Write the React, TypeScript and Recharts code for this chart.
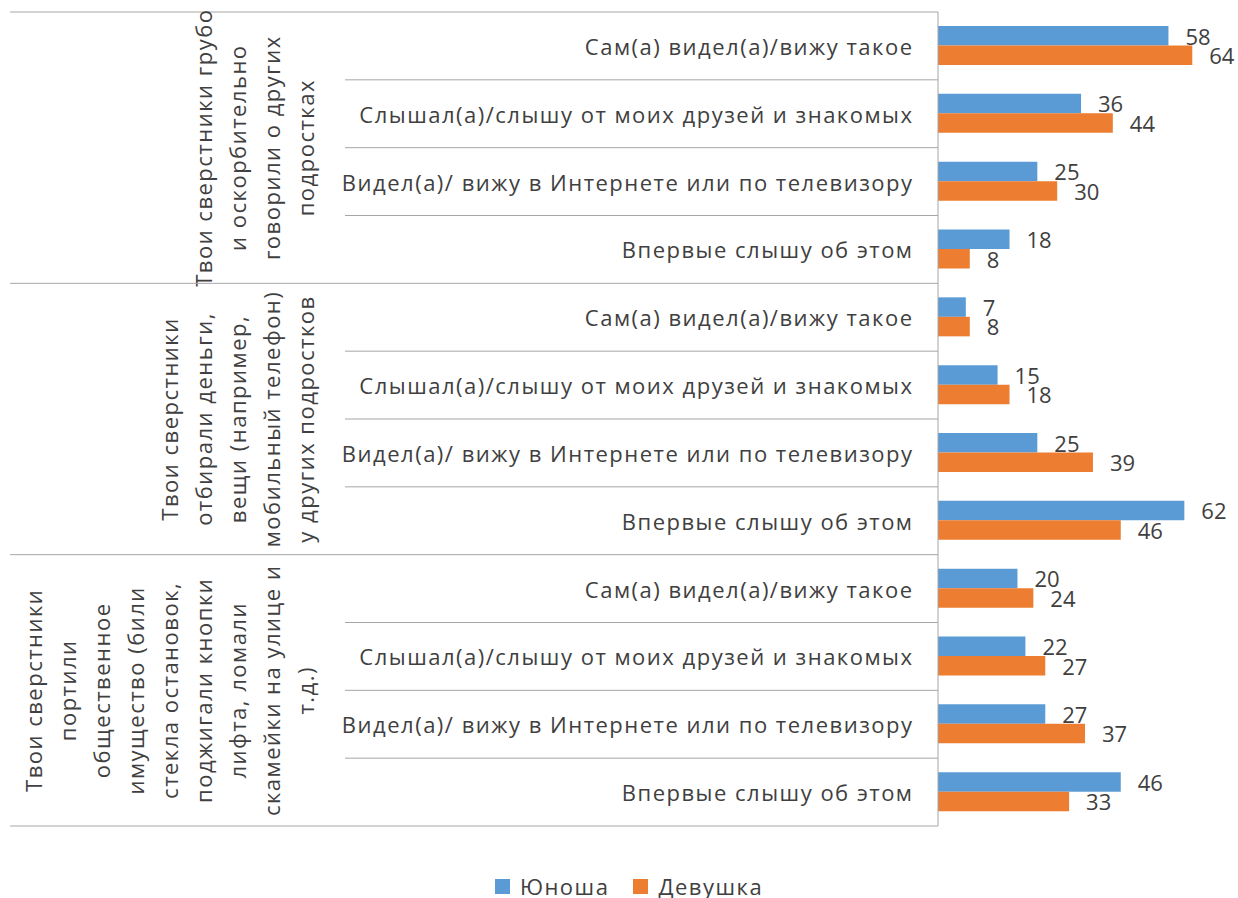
import React from 'react';
import { BarChart, Bar, XAxis, YAxis, Legend, LabelList } from 'recharts';

// Survey questions (wrapped as they are shown on the rotated outer axis)
const groupLabels: string[][] = [
  ['Твои сверстники грубо', 'и оскорбительно', 'говорили о других', 'подростках'],
  ['Твои сверстники', 'отбирали деньги,', 'вещи (например,', 'мобильный телефон)', 'у других подростков'],
  [
    'Твои сверстники',
    'портили',
    'общественное',
    'имущество (били',
    'стекла остановок,',
    'поджигали кнопки',
    'лифта, ломали',
    'скамейки на улице и',
    'т.д.)',
  ],
];

// Answer options, repeated inside every question
const answerLabels: string[] = [
  'Сам(а) видел(а)/вижу такое',
  'Слышал(а)/слышу от моих друзей и знакомых',
  'Видел(а)/ вижу в Интернете или по телевизору',
  'Впервые слышу об этом',
];

const seriesNames = ['Юноша', 'Девушка'];
const boysValues = [58, 36, 25, 18, 7, 15, 25, 62, 20, 22, 27, 46];
const girlsValues = [64, 44, 30, 8, 8, 18, 39, 46, 24, 27, 37, 33];

const BLUE = '#5B9BD5';
const ORANGE = '#ED7D31';
const TEXT = '#404040';
const GRID = '#A6A6A6';
const FONT = '"Open Sans", "DejaVu Sans", sans-serif';
const FONT_SIZE = 22;
const SPACING = 1.5;

const CHART_W = 1238;
const CHART_H = 898;
const AXIS_W = 938;
const TICK_MARGIN = 26;
const SUB_LINE_LEFT = 345;
const GROUP_LINE_LEFT = 10;
const GROUP_TEXT_LAST_X = 305;
const GROUP_LINE_GAP = 34;
const LEGEND_H = 72;

const perGroup = answerLabels.length;

const data = boysValues.map((b, i) => ({
  id: String(i),
  group: Math.floor(i / perGroup),
  answer: answerLabels[i % perGroup],
  boys: b,
  girls: girlsValues[i],
}));

const CategoryTick = (props: any) => {
  const { x, y, payload } = props;
  const i: number = payload.index;
  const half: number = payload.offset ?? 0;
  const axisX = x + TICK_MARGIN;
  const top = y - half;
  const bottom = y + half;
  const row = data[i];
  const isGroupStart = i % perGroup === 0;
  const isGroupEnd = i % perGroup === perGroup - 1;
  const groupCenter = top + half * perGroup;
  const lines = groupLabels[row.group];
  return (
    <g>
      {i === 0 && <line x1={GROUP_LINE_LEFT} x2={axisX} y1={top} y2={top} stroke={GRID} strokeWidth={1} />}
      <line
        x1={isGroupEnd ? GROUP_LINE_LEFT : SUB_LINE_LEFT}
        x2={axisX}
        y1={bottom}
        y2={bottom}
        stroke={GRID}
        strokeWidth={1}
      />
      <text
        x={x + SPACING}
        y={y}
        textAnchor="end"
        dominantBaseline="central"
        fill={TEXT}
        fontSize={FONT_SIZE}
        fontFamily={FONT}
        letterSpacing={SPACING}
      >
        {row.answer}
      </text>
      {isGroupStart &&
        lines.map((line, j) => {
          const cx = GROUP_TEXT_LAST_X - (lines.length - 1 - j) * GROUP_LINE_GAP;
          return (
            <text
              key={j}
              x={cx}
              y={groupCenter}
              transform={`rotate(-90 ${cx} ${groupCenter})`}
              textAnchor="middle"
              dominantBaseline="central"
              fill={TEXT}
              fontSize={FONT_SIZE}
              fontFamily={FONT}
              letterSpacing={SPACING}
            >
              {line}
            </text>
          );
        })}
    </g>
  );
};

const LegendContent = () => (
  <div
    style={{
      height: LEGEND_H,
      display: 'flex',
      justifyContent: 'center',
      alignItems: 'flex-start',
      fontFamily: FONT,
      fontSize: FONT_SIZE,
      letterSpacing: SPACING,
      lineHeight: '22px',
      color: TEXT,
      paddingLeft: 22,
      paddingTop: 49,
      boxSizing: 'border-box',
    }}
  >
    {seriesNames.map((name, k) => (
      <div key={name} style={{ display: 'flex', alignItems: 'center', marginLeft: k ? 24 : 0, height: 22 }}>
        <span style={{ width: 15, height: 15, background: k ? ORANGE : BLUE, display: 'inline-block', marginRight: 10 }} />
        <span>{name}</span>
      </div>
    ))}
  </div>
);

export default function App() {
  return (
    <div style={{ position: 'absolute', left: 0, top: 0, width: CHART_W, height: CHART_H, background: '#fff' }}>
      <BarChart
        width={CHART_W}
        height={CHART_H}
        data={data}
        layout="vertical"
        margin={{ top: 12, right: 2, bottom: 0, left: 0 }}
        barGap={0}
        barSize={19.5}
      >
        <XAxis type="number" domain={[0, 75]} hide />
        <YAxis
          type="category"
          dataKey="id"
          width={AXIS_W}
          tickSize={0}
          tickMargin={TICK_MARGIN}
          tickLine={false}
          axisLine={{ stroke: GRID, strokeWidth: 1 }}
          tick={<CategoryTick />}
          interval={0}
        />
        <Legend verticalAlign="bottom" height={LEGEND_H} content={<LegendContent />} />
        <Bar dataKey="boys" name={seriesNames[0]} fill={BLUE} isAnimationActive={false}>
          <LabelList dataKey="boys" position="right" offset={17} dy={1} fill={TEXT} fontSize={FONT_SIZE} fontFamily={FONT} />
        </Bar>
        <Bar dataKey="girls" name={seriesNames[1]} fill={ORANGE} isAnimationActive={false}>
          <LabelList dataKey="girls" position="right" offset={17} dy={1} fill={TEXT} fontSize={FONT_SIZE} fontFamily={FONT} />
        </Bar>
      </BarChart>
    </div>
  );
}
